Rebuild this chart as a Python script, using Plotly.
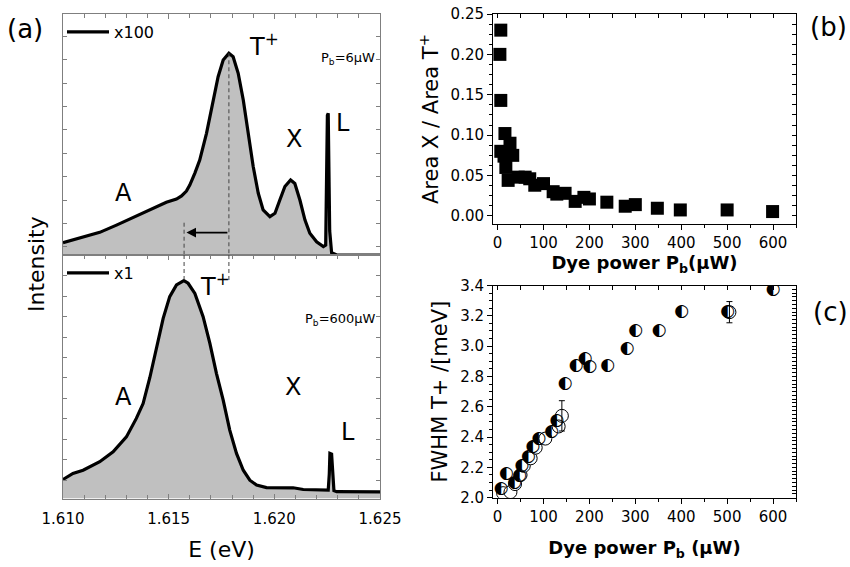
import plotly.graph_objects as go

# ---------------- data ----------------
# (a) spectra, arbitrary intensity units normalised to panel height
E_up = [1.61000, 1.61095, 1.61174, 1.61253, 1.61332, 1.61411, 1.61489, 1.61537, 1.61561,
        1.61584, 1.61600, 1.61624, 1.61647, 1.61679, 1.61711, 1.61734, 1.61758, 1.61785,
        1.61805, 1.61829, 1.61853, 1.61876, 1.61900, 1.61924, 1.61947, 1.61979, 1.62003,
        1.62026, 1.62050, 1.62077, 1.62097, 1.62121, 1.62145, 1.62168, 1.62200, 1.62232,
        1.62243, 1.62251, 1.62255, 1.62262, 1.62271, 1.62295, 1.62500]
I_up = [0.051, 0.073, 0.094, 0.124, 0.156, 0.191, 0.219, 0.232, 0.245,
        0.265, 0.290, 0.340, 0.394, 0.505, 0.643, 0.740, 0.809, 0.837,
        0.823, 0.754, 0.643, 0.505, 0.367, 0.256, 0.187, 0.159, 0.173,
        0.228, 0.284, 0.311, 0.297, 0.228, 0.145, 0.090, 0.055, 0.035,
        0.041, 0.580, 0.588, 0.100, 0.010, 0.0, 0.0]

E_low = [1.61000, 1.61047, 1.61095, 1.61174, 1.61237, 1.61300, 1.61347, 1.61379, 1.61411,
         1.61442, 1.61474, 1.61505, 1.61537, 1.61572, 1.61592, 1.61624, 1.61663, 1.61695,
         1.61726, 1.61758, 1.61789, 1.61821, 1.61853, 1.61884, 1.61916, 1.61963, 1.62042,
         1.62089, 1.62137, 1.62200, 1.62255, 1.62260, 1.62263, 1.62271, 1.62276, 1.62282,
         1.62295, 1.62500]
I_low = [0.078, 0.103, 0.116, 0.151, 0.192, 0.253, 0.329, 0.390, 0.497,
         0.620, 0.740, 0.829, 0.877, 0.895, 0.884, 0.842, 0.747, 0.637,
         0.514, 0.404, 0.281, 0.185, 0.116, 0.075, 0.055, 0.045, 0.044,
         0.044, 0.037, 0.034, 0.034, 0.100, 0.185, 0.182, 0.080, 0.032,
         0.028, 0.027]

E_T_6uW = 1.61785     # T+ peak at 6 uW
E_T_600uW = 1.61573   # T+ peak at 600 uW
I_dash_up_start = 0.134
I_dash_low_end = 0.895
I_arrow = 0.093

# (b) Area X / Area T+
P_b = [5, 7, 7, 7, 14, 16, 18, 23, 27, 33, 45, 60, 70, 81, 100, 121, 129, 147, 169, 188,
       200, 238, 278, 300, 348, 398, 500, 599]
ratio = [0.200, 0.230, 0.143, 0.080, 0.074, 0.102, 0.060, 0.044, 0.090, 0.075, 0.048, 0.048,
         0.046, 0.038, 0.040, 0.030, 0.027, 0.028, 0.018, 0.023, 0.021, 0.017, 0.012, 0.014,
         0.0095, 0.0074, 0.0074, 0.0054]

# (c) FWHM T+
P_half = [8, 19, 37, 48, 53, 67, 77, 90, 118, 129, 147, 171, 191, 201, 240, 282, 301, 352,
          401, 501, 600]
fwhm_half = [2.06, 2.155, 2.10, 2.147, 2.213, 2.268, 2.334, 2.39, 2.436, 2.508, 2.75, 2.87,
             2.914, 2.865, 2.87, 2.986, 3.103, 3.103, 3.224, 3.224, 3.371]
P_open = [12, 28, 38, 50, 57, 72, 83, 104, 133]
fwhm_open = [2.03, 2.037, 2.09, 2.15, 2.21, 2.26, 2.33, 2.39, 2.47]
P_err = [140, 505]
fwhm_err = [2.54, 3.224]
err = [0.10, 0.07]

FONT = "DejaVu Sans"
GRAY = "#7f7f7f"
FILL = "#c0c0c0"

fig = go.Figure()

# ---- (a) upper
fig.add_trace(go.Scatter(x=E_up, y=I_up, xaxis="x", yaxis="y", mode="lines",
                         line=dict(width=0), fill="tozeroy", fillcolor=FILL,
                         showlegend=False, hoverinfo="skip"))
fig.add_trace(go.Scatter(x=E_up, y=I_up, xaxis="x", yaxis="y", mode="lines",
                         line=dict(color="black", width=3.2), name="x100", legend="legend"))
# ---- (a) lower
fig.add_trace(go.Scatter(x=E_low, y=I_low, xaxis="x2", yaxis="y2", mode="lines",
                         line=dict(width=0), fill="tozeroy", fillcolor=FILL,
                         showlegend=False, hoverinfo="skip"))
fig.add_trace(go.Scatter(x=E_low, y=I_low, xaxis="x2", yaxis="y2", mode="lines",
                         line=dict(color="black", width=3.2), name="x1", legend="legend2"))

# dashed guide lines
dash = dict(color="#444", width=1, dash="4px,3px")
fig.add_trace(go.Scatter(x=[E_T_6uW, E_T_6uW], y=[I_up[E_up.index(E_T_6uW)], 0],
                         xaxis="x", yaxis="y", mode="lines", line=dash, showlegend=False))
fig.add_trace(go.Scatter(x=[E_T_600uW, E_T_600uW], y=[I_dash_up_start, 0],
                         xaxis="x", yaxis="y", mode="lines", line=dash, showlegend=False))
fig.add_trace(go.Scatter(x=[E_T_6uW, E_T_6uW], y=[1, I_dash_low_end],
                         xaxis="x2", yaxis="y2", mode="lines", line=dash, showlegend=False))
fig.add_trace(go.Scatter(x=[E_T_600uW, E_T_600uW], y=[1, I_dash_low_end],
                         xaxis="x2", yaxis="y2", mode="lines", line=dash, showlegend=False))

# ---- (b)
fig.add_trace(go.Scatter(x=P_b, y=ratio, xaxis="x3", yaxis="y3", mode="markers",
                         marker=dict(symbol="square", size=13, color="black"),
                         showlegend=False))
fig.add_trace(go.Scatter(x=P_b, y=ratio, xaxis="x5", yaxis="y5", mode="markers",
                         marker=dict(opacity=0), showlegend=False, hoverinfo="skip"))

# ---- (c)
fig.add_trace(go.Scatter(x=P_open, y=fwhm_open, xaxis="x4", yaxis="y4", mode="markers",
                         marker=dict(symbol="circle", size=13, color="white",
                                     line=dict(color="black", width=1)),
                         showlegend=False))
fig.add_trace(go.Scatter(x=P_err, y=fwhm_err, xaxis="x4", yaxis="y4", mode="markers",
                         marker=dict(symbol="circle", size=13, color="rgba(255,255,255,0)",
                                     line=dict(color="black", width=1)),
                         error_y=dict(type="data", array=err, color="black", thickness=1,
                                      width=3),
                         showlegend=False))
fig.add_trace(go.Scatter(x=P_half, y=fwhm_half, xaxis="x4", yaxis="y4", mode="text",
                         text=["\u25D0"] * len(P_half), textposition="middle center",
                         textfont=dict(family=FONT, size=17, color="black"),
                         showlegend=False))
fig.add_trace(go.Scatter(x=P_half, y=fwhm_half, xaxis="x6", yaxis="y6", mode="markers",
                         marker=dict(opacity=0), showlegend=False, hoverinfo="skip"))

# ---------------- layout ----------------
XA = [63 / 850, 380 / 850]
XR = [493 / 850, 796 / 850]
Y_UP = [1 - 255 / 567, 1 - 14 / 567]
Y_LOW = [1 - 498.5 / 567, 1 - 255 / 567]
Y_B = [1 - 224 / 567, 1 - 14 / 567]
Y_C = [1 - 497.7 / 567, 1 - 285.5 / 567]

tickfont = dict(family=FONT, size=15, color="black")
left_common = dict(showline=True, linecolor=GRAY, linewidth=1, ticks="inside",
                   tickcolor=GRAY, showgrid=False, zeroline=False)

xr_common = dict(range=[-10, 650], dtick=100, tick0=0, ticks="outside", ticklen=5,
                 tickcolor="black", showline=True, linecolor="black", linewidth=1,
                 mirror=True, showgrid=False, zeroline=False, tickfont=tickfont,
                 minor=dict(dtick=50, ticks="outside", ticklen=3, tickcolor="black"))
xr_over = dict(range=[-10, 650], dtick=50, tick0=0, ticks="inside", ticklen=4,
               tickcolor="black", showline=False, showticklabels=False, showgrid=False,
               zeroline=False, side="top")

fig.update_layout(
    width=850, height=567, margin=dict(l=0, r=0, t=0, b=0, autoexpand=False),
    paper_bgcolor="white", plot_bgcolor="rgba(0,0,0,0)",
    font=dict(family=FONT, color="black"),
    xaxis=dict(domain=XA, anchor="y", range=[1.610, 1.625], side="top", mirror=True,
               showticklabels=False, dtick=0.005, tick0=1.61, ticklen=5,
               minor=dict(dtick=0.001, ticks="inside", ticklen=4, tickcolor=GRAY),
               **left_common),
    yaxis=dict(domain=Y_UP, anchor="x", range=[0, 1], mirror="ticks", showticklabels=False,
               dtick=0.097, tick0=0.034, ticklen=4, **left_common),
    xaxis2=dict(domain=XA, anchor="y2", range=[1.610, 1.625], mirror="ticks",
                dtick=0.005, tick0=1.61, tickformat=".3f", ticklen=5, tickfont=tickfont,
                ticklabelstandoff=6,
                minor=dict(dtick=0.001, ticks="inside", ticklen=4, tickcolor=GRAY),
                title=dict(text="E (eV)", font=dict(family=FONT, size=22), standoff=15),
                **left_common),
    yaxis2=dict(domain=Y_LOW, anchor="x2", range=[0, 1], mirror="ticks", showticklabels=False,
                dtick=0.084, tick0=0.075, ticklen=4, **left_common),
    # (b)
    xaxis3=dict(domain=XR, anchor="y3",
                title=dict(text="<b>Dye power P<sub>b</sub>(\u00b5W)</b>",
                           font=dict(family=FONT, size=18), standoff=2),
                **xr_common),
    yaxis3=dict(domain=Y_B, anchor="x3", range=[-0.01, 0.25], dtick=0.05, tick0=0,
                tickformat=".2f", ticks="outside", ticklen=5, tickcolor="black",
                showline=True, linecolor="black", mirror=True, showgrid=False,
                zeroline=False, tickfont=tickfont,
                minor=dict(dtick=0.0125, ticks="outside", ticklen=3, tickcolor="black"),
                title=dict(text="Area X / Area T<sup>+</sup>", font=dict(family=FONT, size=21),
                           standoff=6)),
    xaxis5=dict(overlaying="x3", anchor="y3", **xr_over),
    yaxis5=dict(overlaying="y3", anchor="x3", side="right", range=[-0.01, 0.25],
                dtick=0.0125, tick0=0, ticks="inside", ticklen=4, tickcolor="black",
                showline=False, showticklabels=False, showgrid=False, zeroline=False),
    # (c)
    xaxis4=dict(domain=XR, anchor="y4",
                title=dict(text="<b>Dye power P<sub>b</sub> (\u00b5W)</b>",
                           font=dict(family=FONT, size=18), standoff=16),
                **xr_common),
    yaxis4=dict(domain=Y_C, anchor="x4", range=[2.0, 3.4], dtick=0.2, tick0=2.0,
                tickformat=".1f", ticks="outside", ticklen=5, tickcolor="black",
                showline=True, linecolor="black", mirror=True, showgrid=False,
                zeroline=False, tickfont=tickfont,
                minor=dict(dtick=0.05, ticks="outside", ticklen=3, tickcolor="black"),
                title=dict(text="FWHM T+ /[meV]", font=dict(family=FONT, size=21),
                           standoff=6)),
    xaxis6=dict(overlaying="x4", anchor="y4", **xr_over),
    yaxis6=dict(overlaying="y4", anchor="x4", side="right", range=[2.0, 3.4],
                dtick=0.025, tick0=2.0, ticks="inside", ticklen=4, tickcolor="black",
                showline=False, showticklabels=False, showgrid=False, zeroline=False),
    legend=dict(x=62 / 850, y=1 - 32 / 567, xanchor="left", yanchor="middle",
                bgcolor="rgba(0,0,0,0)", font=dict(family=FONT, size=16),
                itemwidth=42, tracegroupgap=0),
    legend2=dict(x=62 / 850, y=1 - 273 / 567, xanchor="left", yanchor="middle",
                 bgcolor="rgba(0,0,0,0)", font=dict(family=FONT, size=16),
                 itemwidth=42, tracegroupgap=0),
)

ann = []
def txt(x, y, s, size, xref, yref, xanchor="center", yanchor="middle", angle=0):
    ann.append(dict(x=x, y=y, xref=xref, yref=yref, text=s, showarrow=False,
                    xanchor=xanchor, yanchor=yanchor, textangle=angle,
                    font=dict(family=FONT, size=size, color="black")))

# upper panel labels
txt(1.61869, 0.871, "T<sup>+</sup>", 24, "x", "y", xanchor="left")
txt(1.62486, 0.817, "P<sub>b</sub>=6\u00b5W", 13, "x", "y", xanchor="right")
txt(1.61284, 0.259, "A", 24, "x", "y")
txt(1.62093, 0.481, "X", 24, "x", "y")
txt(1.62325, 0.548, "L", 24, "x", "y")
# lower panel labels
txt(1.61638, 0.877, "T<sup>+</sup>", 24, "x2", "y2", xanchor="left")
txt(1.62491, 0.737, "P<sub>b</sub>=600\u00b5W", 13, "x2", "y2", xanchor="right")
txt(1.61284, 0.418, "A", 24, "x2", "y2")
txt(1.62086, 0.459, "X", 24, "x2", "y2")
txt(1.62350, 0.274, "L", 24, "x2", "y2")
# panel letters & intensity label
txt(25 / 850, 1 - 29 / 567, "(a)", 26, "paper", "paper")
txt(828 / 850, 1 - 27 / 567, "(b)", 26, "paper", "paper")
txt(830 / 850, 1 - 312 / 567, "(c)", 26, "paper", "paper")
txt(36 / 850, 1 - 264 / 567, "Intensity", 22, "paper", "paper", angle=-90)

# arrow
ann.append(dict(x=1.61584, y=I_arrow, ax=E_T_6uW, ay=I_arrow, xref="x", yref="y",
                axref="x", ayref="y", showarrow=True, arrowhead=2, arrowsize=1.2,
                arrowwidth=1.6, arrowcolor="black", text=""))
fig.update_layout(annotations=ann)

fig.write_html("out.html")
